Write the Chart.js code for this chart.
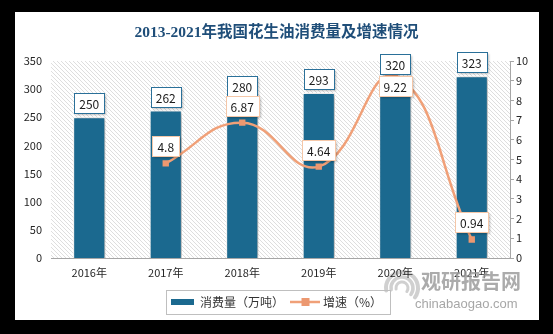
<!DOCTYPE html>
<html><head><meta charset="utf-8">
<script src="https://cdn.jsdelivr.net/npm/chart.js@4/dist/chart.umd.min.js"></script>
<style>
html,body{margin:0;padding:0;background:#000;}
#wrap{position:relative;width:553px;height:334px;overflow:hidden;}
canvas{display:block;}
.wm1{position:absolute;left:421px;top:271px;font:bold 20px "Noto Sans CJK SC";line-height:1;color:rgba(150,150,150,0.8);}
.wm2{position:absolute;left:415px;top:297px;font:13px "Liberation Sans";line-height:1;color:rgba(150,150,150,0.85);}
</style></head><body>
<div id="wrap"><canvas id="c" width="553" height="334"></canvas>
<div class="wm1">观研报告网</div><div class="wm2">chinabaogao.com</div></div>
<script>
const years = ['2016年','2017年','2018年','2019年','2020年','2021年'];
const consumption = [250, 262, 280, 293, 320, 323];
const growth = [null, 4.8, 6.87, 4.64, 9.22, 0.94];
const leftAxis = {min: 0, max: 350, step: 50};
const rightAxis = {min: 0, max: 10, step: 1};

const BAR = '#1b698f', LINE = '#f0a078', MARK = '#ec9870';
const FONT = '"Noto Sans CJK SC", "Noto Sans", sans-serif';

function mkImg(w, h, draw){ const c = document.createElement('canvas'); c.width = w; c.height = h; draw(c.getContext('2d')); return c; }
const barIcon = mkImg(23, 6, g => { g.fillStyle = BAR; g.fillRect(0,0,23,6); });
const lineIcon = mkImg(30, 10, g => { g.strokeStyle = LINE; g.lineWidth = 2.5; g.beginPath(); g.moveTo(0,5); g.lineTo(30,5); g.stroke(); g.fillStyle = MARK; g.fillRect(11,1,8,8); });

const hatch = mkImg(4, 4, g => {
  g.fillStyle = '#fff'; g.fillRect(0,0,4,4);
  g.strokeStyle = '#dedede'; g.lineWidth = 1;
  g.beginPath(); g.moveTo(-1,-1); g.lineTo(5,5); g.moveTo(-1,3); g.lineTo(1,5); g.moveTo(3,-1); g.lineTo(5,1); g.stroke();
});

const bgPlugin = {
  id: 'bg',
  beforeDraw(chart){
    const {ctx, chartArea: a} = chart;
    ctx.save();
    ctx.fillStyle = '#000'; ctx.fillRect(0,0,553,334);
    ctx.fillStyle = '#fff'; ctx.fillRect(15,12,524,308);
    ctx.fillStyle = ctx.createPattern(hatch, 'repeat');
    ctx.fillRect(a.left, a.top, a.right - a.left, a.bottom - a.top);
    // watermark logo swirl
    ctx.strokeStyle = 'rgba(170,170,170,0.55)';
    ctx.lineCap = 'round';
    [[16,4],[11,3.5],[6,3]].forEach(([r,w]) => {
      ctx.lineWidth = w; ctx.beginPath(); ctx.arc(402, 288, r, Math.PI*0.95, Math.PI*2.2); ctx.stroke();
    });
    ctx.restore();
  },
  afterDraw(chart){
    const lg = chart.legend;
    if (!lg || !lg.legendHitBoxes.length) return;
    const hb = lg.legendHitBoxes;
    const ctx = chart.ctx;
    const l = hb[0].left - 5, r = hb[hb.length-1].left + hb[hb.length-1].width + 8;
    ctx.save();
    ctx.strokeStyle = '#bfbfbf'; ctx.lineWidth = 1;
    ctx.strokeRect(Math.round(l)+0.5, 290.5, Math.round(r-l), 24);
    ctx.restore();
  }
};

const shadowPlugin = {
  id: 'barShadow',
  beforeDatasetDraw(chart, args){
    if (args.meta.type !== 'bar') return;
    const ctx = chart.ctx; ctx.save();
    ctx.shadowColor = 'rgba(0,0,0,0.35)'; ctx.shadowBlur = 4; ctx.shadowOffsetX = 2; ctx.shadowOffsetY = 1;
  },
  afterDatasetDraw(chart, args){ if (args.meta.type === 'bar') chart.ctx.restore(); }
};

function labelBox(ctx, text, cx, top, border){
  ctx.font = '12px ' + FONT;
  const w = Math.round(ctx.measureText(text).width + 10), h = 20;
  const x = Math.round(cx - w/2) + 0.5, y = Math.round(top) + 0.5;
  ctx.save();
  ctx.shadowColor = 'rgba(0,0,0,0.25)'; ctx.shadowBlur = 2; ctx.shadowOffsetX = 1; ctx.shadowOffsetY = 1;
  ctx.fillStyle = '#fff'; ctx.fillRect(x, y, w, h);
  ctx.restore();
  ctx.save();
  ctx.strokeStyle = border; ctx.lineWidth = 1; ctx.strokeRect(x, y, w, h);
  ctx.fillStyle = '#1a1a1a'; ctx.textAlign = 'center'; ctx.textBaseline = 'middle';
  ctx.fillText(text, cx, y + h/2 + 0.5);
  ctx.restore();
}

const labelPlugin = {
  id: 'labels',
  afterDatasetsDraw(chart){
    const ctx = chart.ctx, a = chart.chartArea;
    const bm = chart.getDatasetMeta(0);
    bm.data.forEach((el, i) => labelBox(ctx, String(consumption[i]), el.x, el.y - 24, '#2a7099'));
    const lm = chart.getDatasetMeta(1);
    lm.data.forEach((el, i) => {
      if (growth[i] == null) return;
      let top = el.y - 27;
      if (top < a.top) top = el.y;
      labelBox(ctx, String(growth[i]), el.x, top, '#f5c7a8');
    });
  }
};

new Chart(document.getElementById('c'), {
  data: {
    labels: years,
    datasets: [
      { type: 'bar', label: '消费量（万吨）', data: consumption, yAxisID: 'y', order: 2,
        backgroundColor: BAR, borderColor: '#ffffff', borderWidth: 1,
        barPercentage: 0.42, categoryPercentage: 1 },
      { type: 'line', label: '增速（%）', data: growth, yAxisID: 'y1', order: 1,
        borderColor: LINE, borderWidth: 2.5, tension: 0.45, fill: false, spanGaps: true,
        pointStyle: 'rect', pointRadius: 4.5, pointBackgroundColor: MARK, pointBorderColor: MARK, pointBorderWidth: 0 }
    ]
  },
  options: {
    responsive: false, animation: false, devicePixelRatio: 1,
    layout: { padding: { left: 0, right: 0, top: 0, bottom: 16 } },
    plugins: {
      tooltip: { enabled: false },
      title: { display: true, text: '2013-2021年我国花生油消费量及增速情况', color: '#1f4e79',
        font: { family: '"Liberation Serif", "Noto Sans CJK SC", serif', size: 15.5, weight: 'bold' },
        padding: { top: 24, bottom: 18.4 } },
      legend: {
        position: 'bottom',
        labels: {
          usePointStyle: true, pointStyleWidth: 23, padding: 10, color: '#333',
          font: { family: FONT, size: 12 },
          generateLabels: () => [
            { text: '消费量（万吨）', pointStyle: barIcon, fillStyle: BAR, strokeStyle: BAR, lineWidth: 0, datasetIndex: 0, fontColor: '#333' },
            { text: '增速（%）', pointStyle: lineIcon, fillStyle: LINE, strokeStyle: LINE, lineWidth: 0, datasetIndex: 1, fontColor: '#333' }
          ]
        }
      }
    },
    scales: {
      x: {
        grid: { display: false, drawTicks: false },
        border: { display: true, color: '#a6a6a6', width: 1 },
        ticks: { color: '#262626', font: { family: FONT, size: 11 }, padding: 8, maxRotation: 0 },
        afterFit: s => { s.height = 28; }
      },
      y: {
        position: 'left', min: leftAxis.min, max: leftAxis.max,
        ticks: { stepSize: leftAxis.step, color: '#262626', font: { family: FONT, size: 11 }, padding: 9 },
        grid: { display: false, drawTicks: false },
        border: { display: false },
        afterFit: s => { s.width = 51; }
      },
      y1: {
        position: 'right', min: rightAxis.min, max: rightAxis.max,
        ticks: { stepSize: rightAxis.step, color: '#262626', font: { family: FONT, size: 11 }, padding: 2 },
        grid: { drawOnChartArea: false, drawTicks: true, tickLength: 4, color: '#a6a6a6' },
        border: { display: true, color: '#a6a6a6', width: 1 },
        afterFit: s => { s.width = 43; }
      }
    }
  },
  plugins: [bgPlugin, shadowPlugin, labelPlugin]
});
</script>
</body></html>
